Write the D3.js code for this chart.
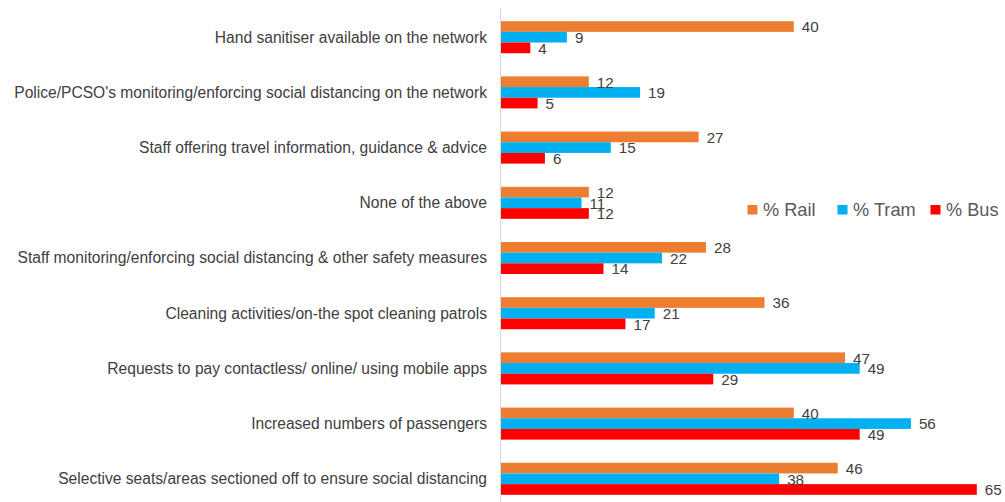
<!DOCTYPE html>
<html>
<head>
<meta charset="utf-8">
<script src="https://cdn.jsdelivr.net/npm/d3@7"></script>
<style>
  html, body { margin: 0; padding: 0; background: #fff; }
  svg { display: block; }
  text { font-family: "Liberation Sans", Arial, sans-serif; }
</style>
</head>
<body>
<svg id="chart" width="1005" height="502"></svg>
<script>
// Survey measures, listed top to bottom
const categories = [
  "Hand sanitiser available on the network",
  "Police/PCSO's monitoring/enforcing social distancing on the network",
  "Staff offering travel information, guidance & advice",
  "None of the above",
  "Staff monitoring/enforcing social distancing & other safety measures",
  "Cleaning activities/on-the spot cleaning patrols ",
  "Requests to pay contactless/ online/ using mobile apps",
  "Increased numbers of passengers",
  "Selective seats/areas sectioned off to ensure social distancing"
];
const seriesNames = ["% Rail", "% Tram", "% Bus"];
const railValues = [40, 12, 27, 12, 28, 36, 47, 40, 46];
const tramValues = [9, 19, 15, 11, 22, 21, 49, 56, 38];
const busValues  = [4, 5, 6, 12, 14, 17, 29, 49, 65];
const seriesColors = ["#ED7D31", "#00B0F0", "#FF0000"];

const seriesValues = [railValues, tramValues, busValues];

const svg = d3.select("#chart");
const plotLeft = 501;
const pxPerUnit = 7.32;

const x = d3.scaleLinear().domain([0, 68]).range([plotLeft, plotLeft + 68 * pxPerUnit]);

const y = d3.scaleBand()
  .domain(categories)
  .range([9.6, 506.4])
  .paddingInner(0.42)
  .paddingOuter(0.21);

const ySub = d3.scaleBand()
  .domain(seriesNames)
  .range([0, y.bandwidth()]);

// Category labels
svg.append("g")
  .selectAll("text")
  .data(categories)
  .join("text")
  .attr("x", 487)
  .attr("y", d => y(d) + y.bandwidth() / 2)
  .attr("dy", "0.35em")
  .attr("text-anchor", "end")
  .attr("font-size", 15.6)
  .attr("fill", "#404040")
  .text(d => d);

// Bars per category
const groups = svg.append("g")
  .selectAll("g")
  .data(categories)
  .join("g")
  .attr("transform", d => `translate(0,${y(d)})`);

groups.selectAll("rect")
  .data((d, i) => seriesNames.map((s, k) => ({ s, k, v: seriesValues[k][i] })))
  .join("rect")
  .attr("x", x(0))
  .attr("y", d => ySub(d.s))
  .attr("width", d => x(d.v) - x(0))
  .attr("height", ySub.bandwidth())
  .attr("fill", d => seriesColors[d.k]);

groups.selectAll("text")
  .data((d, i) => seriesNames.map((s, k) => ({ s, k, v: seriesValues[k][i] })))
  .join("text")
  .attr("x", d => x(d.v) + 8)
  .attr("y", d => ySub(d.s) + ySub.bandwidth() / 2)
  .attr("dy", "0.38em")
  .attr("font-size", 15.2)
  .attr("fill", "#404040")
  .text(d => d.v);

// Category axis line
svg.append("line")
  .attr("x1", 500.5).attr("x2", 500.5)
  .attr("y1", 9).attr("y2", 502)
  .attr("stroke", "#D9D9D9")
  .attr("stroke-width", 1);

// Legend
const legendX = [747.5, 837.5, 930.5];
const legend = svg.append("g")
  .selectAll("g")
  .data(seriesNames)
  .join("g")
  .attr("transform", (d, i) => `translate(${legendX[i]},205)`);
legend.append("rect")
  .attr("width", 10).attr("height", 9.5)
  .attr("fill", (d, i) => seriesColors[i]);
legend.append("text")
  .attr("x", 15.5)
  .attr("y", 10.5)
  .attr("font-size", 18.2)
  .attr("fill", "#595959")
  .text(d => d);
</script>
</body>
</html>
